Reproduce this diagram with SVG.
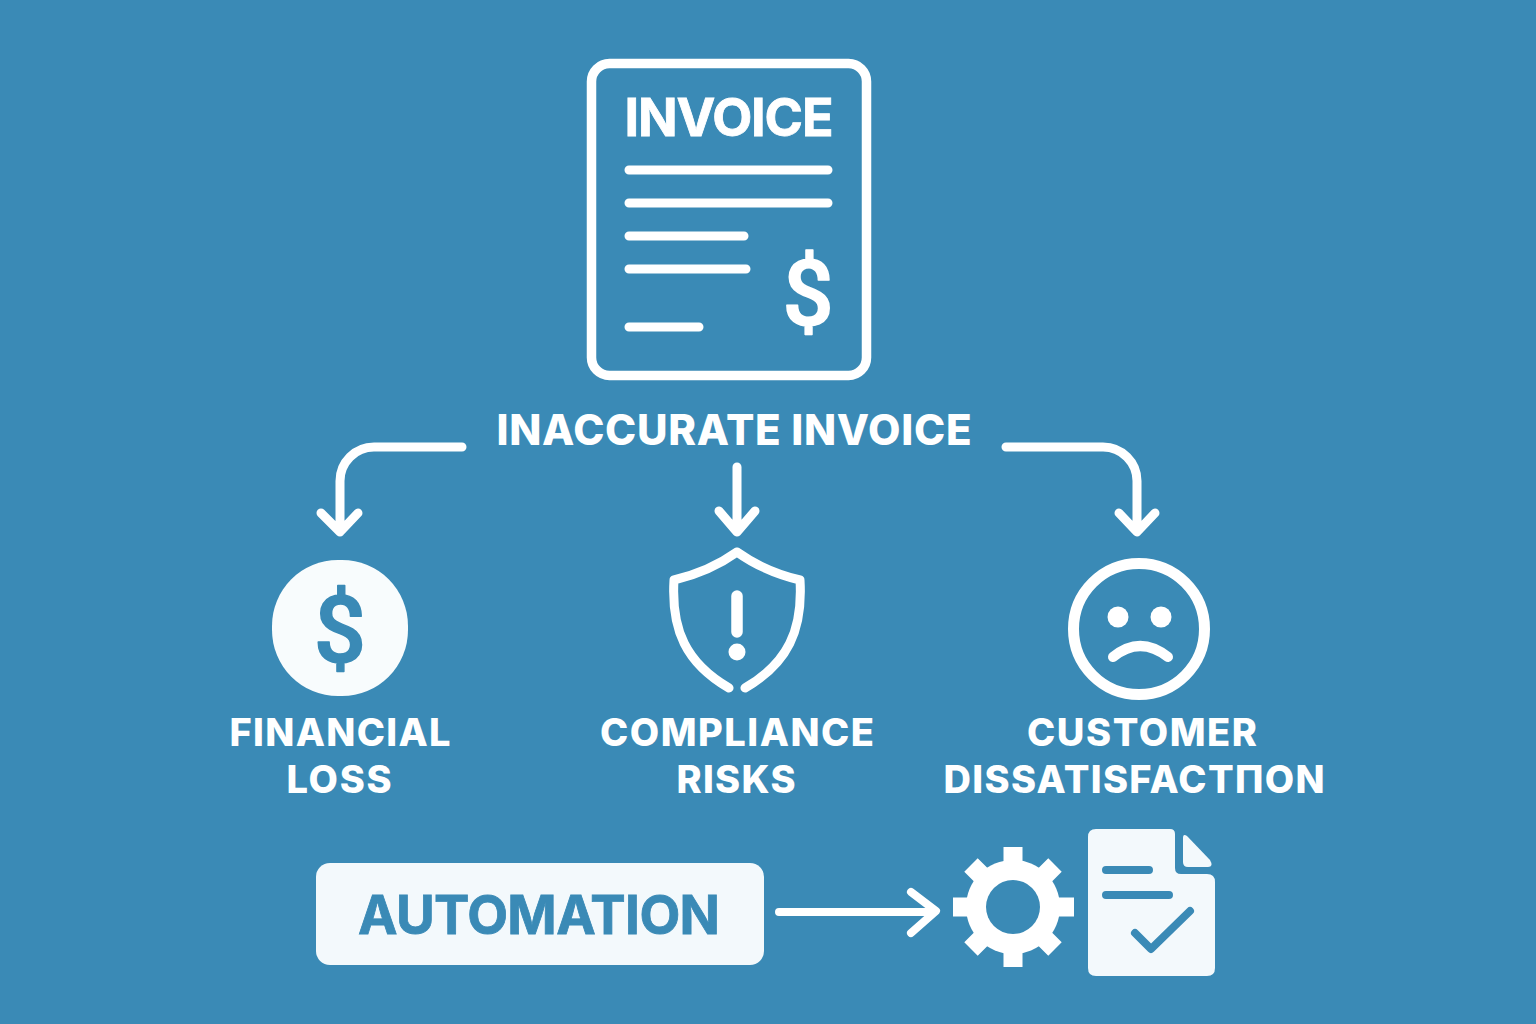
<svg xmlns="http://www.w3.org/2000/svg" width="1536" height="1024" viewBox="0 0 1536 1024">
<style>
.t{font-family:Inter,"Liberation Sans",sans-serif;font-weight:800;fill:#fff;text-anchor:middle}
.b{font-family:Inter,"Liberation Sans",sans-serif;font-weight:700;fill:#fff;text-anchor:middle}
.s{fill:none;stroke:#fff;stroke-linecap:round;stroke-linejoin:round}
.d{font-family:Roboto,"Liberation Sans",sans-serif;font-weight:500;text-anchor:middle;stroke-width:1.500;stroke-linejoin:round}
</style>
<rect width="1536" height="1024" fill="#3a8ab6"/>
<g id="invoice">
<rect x="591.500" y="63.500" width="275" height="312" rx="18" class="s" stroke-width="9.500"/>
<text x="729" y="136" class="b" font-size="52" textLength="209" stroke="#fff" stroke-width="0.800">INVOICE</text>
<path class="s" stroke-width="9" d="M629 170H828M629 203H828M629 236H744M629 269H746M629 327H699"/>
<text x="808" y="325" class="d" fill="#fff" stroke="#fff" font-size="90">$</text>
</g>
<g id="inaccurate"><text x="734" y="445" class="t" font-size="42" textLength="475">INACCURATE INVOICE</text></g>
<g id="connectors">
<path class="s" stroke-width="9" d="M462 447H374A34 34 0 0 0 340 481V530M321 513L340 532L358 513"/>
<path class="s" stroke-width="9" d="M737 467V530M719 511L737 532L755 511"/>
<path class="s" stroke-width="9" d="M1006 447H1103A34 34 0 0 1 1137 481V530M1119 513L1137 532L1155 513"/>
<path class="s" stroke-width="8" d="M779 912H934M911 892L936 911L911 933"/>
</g>
<g id="financial">
<rect x="272" y="560" width="136" height="136" rx="66" fill="#f8fcfd"/>
<text x="340" y="662" class="d" fill="#3a8ab6" stroke="#3a8ab6" font-size="92">$</text>
<text x="340" y="746" class="t" font-size="38" textLength="221">FINANCIAL</text>
<text x="339" y="793" class="t" font-size="38" textLength="105">LOSS</text>
</g>
<g id="compliance">
<path class="s" stroke-width="9" d="M737 552C716 567 695 575 674 580C671 630 686 663 729 688M737 552C758 567 779 575 800 580C803 630 788 663 745 688"/>
<path class="s" stroke-width="11.500" d="M737 596V632"/>
<circle cx="737" cy="652" r="8.500" fill="#fff"/>
<text x="737" y="746" class="t" font-size="38" textLength="274">COMPLIANCE</text>
<text x="736" y="793" class="t" font-size="38" textLength="119">RISKS</text>
</g>
<g id="customer">
<circle cx="1139" cy="629" r="65.500" class="s" stroke-width="11"/>
<circle cx="1118" cy="617" r="10.500" fill="#fff"/>
<circle cx="1161" cy="617" r="10.500" fill="#fff"/>
<path class="s" stroke-width="10" d="M1113 657Q1140 635 1168 657"/>
<text x="1142" y="746" class="t" font-size="38" textLength="230">CUSTOMER</text>
<text x="1134" y="793" class="t" font-size="38" textLength="381">DISSATISFACTΠON</text>
</g>
<g id="automation">
<rect x="316" y="863" width="448" height="102" rx="14" fill="#f3f9fc"/>
<text x="539" y="934" class="b" style="fill:#3a8ab6" stroke="#3a8ab6" stroke-width="0.800" font-size="53" textLength="362">AUTOMATION</text>
</g>
<g id="gear">
<path stroke="#fff" stroke-width="19" d="M1013 847V967M953 907H1074M971 865L1055 949M1055 865L971 949"/>
<circle cx="1013" cy="907" r="47" fill="#fff"/>
<circle cx="1013" cy="907" r="27" fill="#3a8ab6"/>
</g>
<g id="doc">
<path fill="#f3f9fc" d="M1096 829H1170Q1175 829 1175 834V868Q1175 874 1181 874H1207Q1215 874 1215 882V968Q1215 976 1207 976H1096Q1088 976 1088 968V837Q1088 829 1096 829Z"/>
<path fill="#f3f9fc" d="M1183 838Q1183 833 1187 836L1210 860Q1214 867 1208 867H1188Q1183 867 1183 862Z"/>
<path fill="none" stroke="#3a8ab6" stroke-width="8" stroke-linecap="round" stroke-linejoin="round" d="M1106 870H1149M1106 895H1169M1135 933L1151 949L1190 911"/>
</g>
</svg>
